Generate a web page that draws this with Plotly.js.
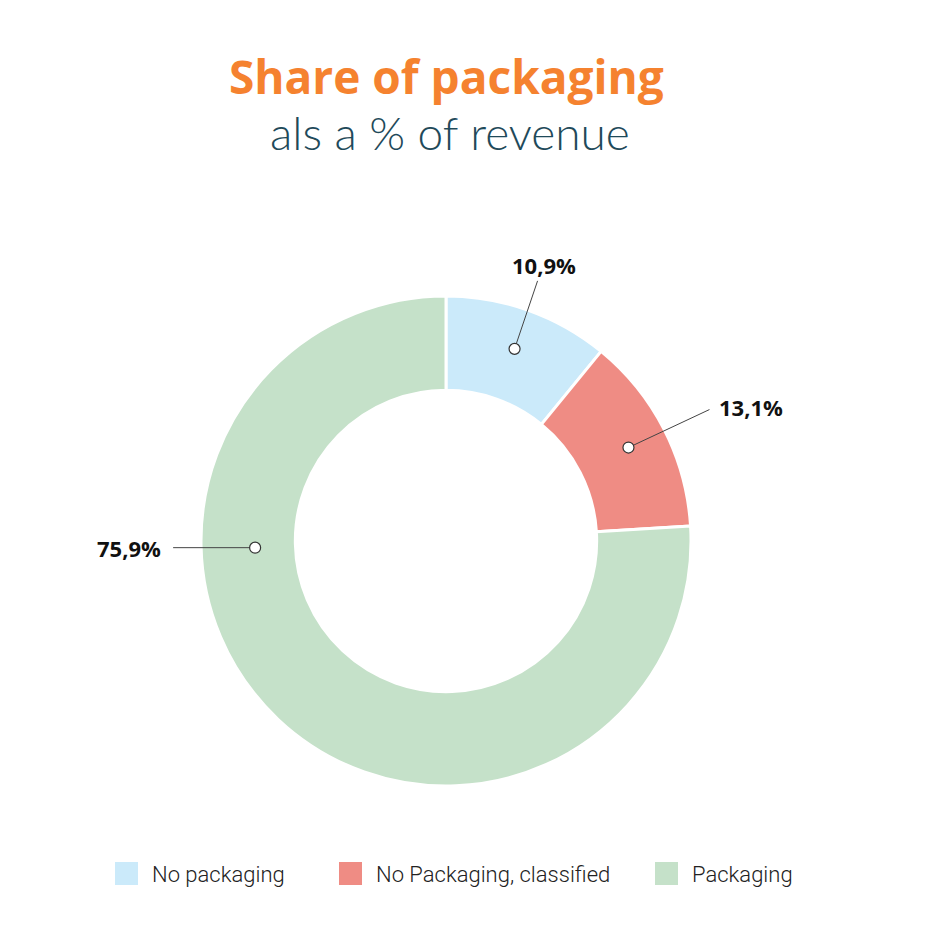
<!DOCTYPE html>
<html><head><meta charset="utf-8">
<script src="https://cdn.plot.ly/plotly-3.0.1.min.js"></script>
<style>html,body{margin:0;padding:0;background:#fff}</style>
</head><body>
<div id="chart" style="width:930px;height:930px"></div>
<script>
// ---- data ----
const categories = ["No packaging", "No Packaging, classified", "Packaging"];
const shares = [10.9, 13.1, 75.9];
const valueLabels = ["10,9%", "13,1%", "75,9%"];
const colors = ["#cbeafa", "#ef8c84", "#c5e1c9"];
const titleText = "Share of packaging";
const subtitleText = "als a % of revenue";

// ---- layout / style ----
const W = 930, H = 930;
const cxPx = 446, cyPx = 541, R = 245, hole = 0.615;
const dom = {x: [(cxPx - R) / W, (cxPx + R) / W], y: [1 - (cyPx + R) / H, 1 - (cyPx - R) / H]};
const leaders = [
  {rr: 204, ang: null, ldx: 23, ldy: -68, tdx: 29, tdy: -84, xanchor: "center"},
  {rr: 205, ang: null, ldx: 81, ldy: -38, tdx: 89, tdy: -41, xanchor: "left"},
  {rr: 191, ang: 268, ldx: -82, ldy: 0, tdx: -92, tdy: 0, xanchor: "right"}
];
const legendX = [115, 339, 655];

const total = shares.reduce((a, b) => a + b, 0);
const px = x => x / W, py = y => 1 - y / H;
const shapes = [], annotations = [];
let cum = 0;
shares.forEach((v, i) => {
  const L = leaders[i];
  const mid = (cum + v / 2) / total * 360;
  cum += v;
  const a = (L.ang === null ? mid : L.ang) * Math.PI / 180;
  const dx = cxPx + L.rr * Math.sin(a), dy = cyPx - L.rr * Math.cos(a);
  shapes.push({type: "line", xref: "paper", yref: "paper", x0: px(dx), y0: py(dy), x1: px(dx + L.ldx), y1: py(dy + L.ldy), line: {color: "#444", width: 1}, layer: "above"});
  shapes.push({type: "circle", xref: "paper", yref: "paper", x0: px(dx - 5.5), x1: px(dx + 5.5), y0: py(dy + 5.5), y1: py(dy - 5.5), fillcolor: "#fff", line: {color: "#333", width: 1.2}, layer: "above"});
  annotations.push({xref: "paper", yref: "paper", x: px(dx + L.tdx), y: py(dy + L.tdy), text: "<b>" + valueLabels[i] + "</b>", showarrow: false, xanchor: L.xanchor, yanchor: "middle", font: {family: "Open Sans, sans-serif", size: 22, color: "#111"}});
  shapes.push({type: "rect", xref: "paper", yref: "paper", x0: px(legendX[i]), x1: px(legendX[i] + 23), y0: py(885), y1: py(862), fillcolor: colors[i], line: {width: 0}});
  annotations.push({xref: "paper", yref: "paper", x: px(legendX[i] + 35), y: py(874), text: categories[i], showarrow: false, xanchor: "left", yanchor: "middle", font: {family: "Roboto, sans-serif", size: 22, weight: 300, color: "#222"}});
});
annotations.push({xref: "paper", yref: "paper", x: px(446), y: py(76), text: "<b>" + titleText + "</b>", showarrow: false, xanchor: "center", yanchor: "middle", font: {family: "Open Sans, sans-serif", size: 46, color: "#f5822f"}});
annotations.push({xref: "paper", yref: "paper", x: px(450), y: py(132), text: subtitleText, showarrow: false, xanchor: "center", yanchor: "middle", font: {family: "Lato, sans-serif", size: 46, weight: 300, color: "#1f4a5a"}});

const trace = {
  type: "pie", values: shares, labels: categories, hole: hole, sort: false,
  direction: "clockwise", rotation: 0, textinfo: "none", hoverinfo: "label+percent",
  marker: {colors: colors, line: {color: "#fff", width: 3}}, domain: dom, showlegend: false
};
Plotly.newPlot("chart", [trace], {
  width: W, height: H, margin: {l: 0, r: 0, t: 0, b: 0},
  paper_bgcolor: "#fff", showlegend: false, shapes: shapes, annotations: annotations
}, {displayModeBar: false});
</script>
</body></html>
